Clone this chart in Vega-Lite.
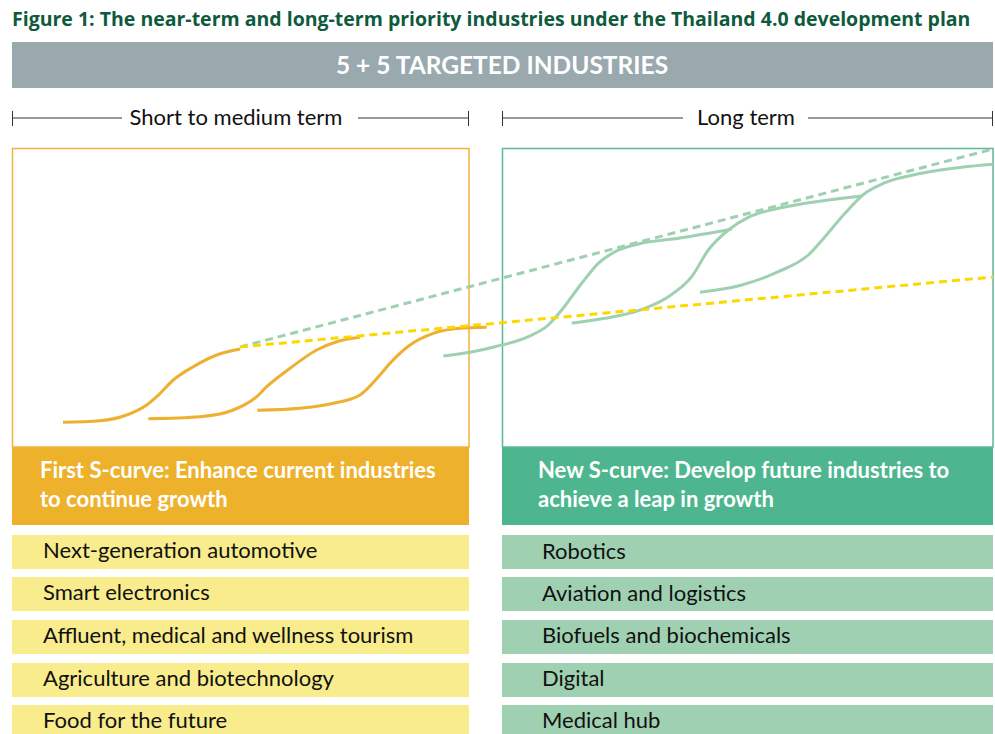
{
  "$schema": "https://vega.github.io/schema/vega-lite/v6.json",
  "width": 995,
  "height": 734,
  "autosize": {"type": "none"},
  "padding": 0,
  "background": "white",
  "config": {"view": {"stroke": null}, "text": {"font": "Lato"}},
  "datasets": {
    "blocks": [
      {"part": "banner", "x": 12, "x2": 993, "y": 42, "y2": 88},
      {"part": "first_header", "x": 12, "x2": 469, "y": 447, "y2": 525},
      {"part": "new_header", "x": 502, "x2": 993, "y": 447, "y2": 525}
    ],
    "frames": [
      {"series": "first_frame", "x": 12.5, "x2": 469, "y": 148.5, "y2": 447},
      {"series": "new_frame", "x": 502.5, "x2": 993, "y": 148.5, "y2": 447}
    ],
    "industries": [
      {"side": "first", "rank": 1, "industry": "Next-generation automotive", "x": 12, "x2": 469, "y": 535, "y2": 569, "tx": 43, "ty": 558},
      {"side": "first", "rank": 2, "industry": "Smart electronics", "x": 12, "x2": 469, "y": 577, "y2": 611, "tx": 43, "ty": 600},
      {"side": "first", "rank": 3, "industry": "Affluent, medical and wellness tourism", "x": 12, "x2": 469, "y": 620, "y2": 654, "tx": 43, "ty": 643},
      {"side": "first", "rank": 4, "industry": "Agriculture and biotechnology", "x": 12, "x2": 469, "y": 663, "y2": 697, "tx": 43, "ty": 686},
      {"side": "first", "rank": 5, "industry": "Food for the future", "x": 12, "x2": 469, "y": 705, "y2": 740, "tx": 43, "ty": 728},
      {"side": "new", "rank": 1, "industry": "Robotics", "x": 502, "x2": 993, "y": 535, "y2": 569, "tx": 542, "ty": 559},
      {"side": "new", "rank": 2, "industry": "Aviation and logistics", "x": 502, "x2": 993, "y": 577, "y2": 611, "tx": 542, "ty": 601},
      {"side": "new", "rank": 3, "industry": "Biofuels and biochemicals", "x": 502, "x2": 993, "y": 620, "y2": 654, "tx": 542, "ty": 643},
      {"side": "new", "rank": 4, "industry": "Digital", "x": 502, "x2": 993, "y": 663, "y2": 697, "tx": 542, "ty": 686},
      {"side": "new", "rank": 5, "industry": "Medical hub", "x": 502, "x2": 993, "y": 705, "y2": 740, "tx": 542, "ty": 728}
    ],
    "hrules": [
      {"x": 12, "x2": 122, "y": 118},
      {"x": 358, "x2": 469, "y": 118},
      {"x": 502, "x2": 683, "y": 118},
      {"x": 808, "x2": 993, "y": 118}
    ],
    "vrules": [
      {"x": 12.5, "y": 111, "y2": 126},
      {"x": 468.5, "y": 111, "y2": 126},
      {"x": 502.5, "y": 111, "y2": 126},
      {"x": 992.5, "y": 111, "y2": 126}
    ],
    "curves": [
      {"series": "first", "curve": "f1", "x": 63, "y": 422.3},
      {"series": "first", "curve": "f1", "x": 100, "y": 420.7},
      {"series": "first", "curve": "f1", "x": 126.7, "y": 415},
      {"series": "first", "curve": "f1", "x": 146.7, "y": 405},
      {"series": "first", "curve": "f1", "x": 156.7, "y": 396.7},
      {"series": "first", "curve": "f1", "x": 173.3, "y": 380},
      {"series": "first", "curve": "f1", "x": 193.3, "y": 366.7},
      {"series": "first", "curve": "f1", "x": 216.7, "y": 355},
      {"series": "first", "curve": "f1", "x": 240, "y": 349},
      {"series": "first", "curve": "f2", "x": 148.3, "y": 418.7},
      {"series": "first", "curve": "f2", "x": 200, "y": 416.7},
      {"series": "first", "curve": "f2", "x": 233.3, "y": 410},
      {"series": "first", "curve": "f2", "x": 256.7, "y": 396.7},
      {"series": "first", "curve": "f2", "x": 266.7, "y": 386.7},
      {"series": "first", "curve": "f2", "x": 290, "y": 368.3},
      {"series": "first", "curve": "f2", "x": 316.7, "y": 350},
      {"series": "first", "curve": "f2", "x": 336.7, "y": 341.7},
      {"series": "first", "curve": "f2", "x": 360, "y": 337.3},
      {"series": "first", "curve": "f3", "x": 257.3, "y": 410.3},
      {"series": "first", "curve": "f3", "x": 300, "y": 408.3},
      {"series": "first", "curve": "f3", "x": 333.3, "y": 403.3},
      {"series": "first", "curve": "f3", "x": 360, "y": 395},
      {"series": "first", "curve": "f3", "x": 380, "y": 375},
      {"series": "first", "curve": "f3", "x": 390, "y": 363.3},
      {"series": "first", "curve": "f3", "x": 410, "y": 345},
      {"series": "first", "curve": "f3", "x": 433.3, "y": 333.3},
      {"series": "first", "curve": "f3", "x": 460, "y": 328.3},
      {"series": "first", "curve": "f3", "x": 486.7, "y": 327.3},
      {"series": "new", "curve": "n1", "x": 443.3, "y": 356},
      {"series": "new", "curve": "n1", "x": 470, "y": 352.3},
      {"series": "new", "curve": "n1", "x": 495, "y": 346.7},
      {"series": "new", "curve": "n1", "x": 528.3, "y": 336.7},
      {"series": "new", "curve": "n1", "x": 548.3, "y": 325},
      {"series": "new", "curve": "n1", "x": 561.7, "y": 310},
      {"series": "new", "curve": "n1", "x": 581.7, "y": 283.3},
      {"series": "new", "curve": "n1", "x": 598.3, "y": 263.3},
      {"series": "new", "curve": "n1", "x": 615, "y": 251.7},
      {"series": "new", "curve": "n1", "x": 638.3, "y": 244},
      {"series": "new", "curve": "n1", "x": 678.3, "y": 238.3},
      {"series": "new", "curve": "n1", "x": 731.7, "y": 229.3},
      {"series": "new", "curve": "n2", "x": 571.7, "y": 323.3},
      {"series": "new", "curve": "n2", "x": 605, "y": 318.3},
      {"series": "new", "curve": "n2", "x": 638.3, "y": 310.7},
      {"series": "new", "curve": "n2", "x": 668.3, "y": 296.7},
      {"series": "new", "curve": "n2", "x": 691.7, "y": 276.7},
      {"series": "new", "curve": "n2", "x": 708.3, "y": 250},
      {"series": "new", "curve": "n2", "x": 728.3, "y": 230},
      {"series": "new", "curve": "n2", "x": 748.3, "y": 217.3},
      {"series": "new", "curve": "n2", "x": 778.3, "y": 208.3},
      {"series": "new", "curve": "n2", "x": 828.3, "y": 200},
      {"series": "new", "curve": "n2", "x": 861.7, "y": 196},
      {"series": "new", "curve": "n3", "x": 700, "y": 292.3},
      {"series": "new", "curve": "n3", "x": 741.7, "y": 285},
      {"series": "new", "curve": "n3", "x": 778.3, "y": 271.7},
      {"series": "new", "curve": "n3", "x": 808.3, "y": 255},
      {"series": "new", "curve": "n3", "x": 825, "y": 236.7},
      {"series": "new", "curve": "n3", "x": 845, "y": 213.3},
      {"series": "new", "curve": "n3", "x": 865, "y": 193.3},
      {"series": "new", "curve": "n3", "x": 885, "y": 182.7},
      {"series": "new", "curve": "n3", "x": 921.7, "y": 173.3},
      {"series": "new", "curve": "n3", "x": 961.7, "y": 167.3},
      {"series": "new", "curve": "n3", "x": 993, "y": 164.3}
    ],
    "trends": [
      {"series": "new_trend", "x": 240, "y": 347},
      {"series": "new_trend", "x": 993, "y": 149},
      {"series": "first_trend", "x": 240, "y": 347},
      {"series": "first_trend", "x": 993, "y": 277}
    ],
    "labels": [
      {"kind": "title", "text": "Figure 1: The near-term and long-term priority industries under the Thailand 4.0 development plan", "x": 12, "y": 26},
      {"kind": "banner", "text": "5 + 5 TARGETED INDUSTRIES", "x": 502, "y": 74},
      {"kind": "term", "text": "Short to medium term", "x": 236, "y": 125},
      {"kind": "term", "text": "Long term", "x": 746, "y": 125},
      {"kind": "header", "text": "First S-curve: Enhance current industries", "x": 40, "y": 478},
      {"kind": "header", "text": "to continue growth", "x": 40, "y": 507},
      {"kind": "header", "text": "New S-curve: Develop future industries to", "x": 538, "y": 478},
      {"kind": "header", "text": "achieve a leap in growth", "x": 538, "y": 507}
    ]
  },
  "layer": [
    {
      "data": {"name": "blocks"},
      "mark": {"type": "rect"},
      "encoding": {
        "x": {"field": "x", "type": "quantitative", "scale": {"domain": [0, 995], "nice": false, "zero": false}, "axis": null},
        "x2": {"field": "x2"},
        "y": {"field": "y", "type": "quantitative", "scale": {"domain": [0, 734], "nice": false, "zero": false, "reverse": true}, "axis": null},
        "y2": {"field": "y2"},
        "fill": {"field": "part", "type": "nominal", "scale": {"domain": ["banner", "first_header", "new_header"], "range": ["#9aa9ae", "#eeb12c", "#4db68f"]}, "legend": null}
      }
    },
    {
      "data": {"name": "frames"},
      "mark": {"type": "rect", "fill": "white", "strokeWidth": 1.5},
      "encoding": {
        "x": {"field": "x", "type": "quantitative", "axis": null},
        "x2": {"field": "x2"},
        "y": {"field": "y", "type": "quantitative", "axis": null},
        "y2": {"field": "y2"},
        "stroke": {"field": "series", "type": "nominal", "scale": {"domain": ["first_frame", "new_frame", "first", "new", "new_trend", "first_trend"], "range": ["#f0b33c", "#5cb996", "#edb030", "#9fd0b1", "#9fd0b1", "#fdd800"]}, "legend": null}
      }
    },
    {
      "data": {"name": "industries"},
      "mark": {"type": "rect"},
      "encoding": {
        "x": {"field": "x", "type": "quantitative", "axis": null},
        "x2": {"field": "x2"},
        "y": {"field": "y", "type": "quantitative", "axis": null},
        "y2": {"field": "y2"},
        "color": {"field": "side", "type": "nominal", "scale": {"domain": ["first", "new"], "range": ["#f8ec8d", "#9fd0b1"]}, "legend": null}
      }
    },
    {
      "data": {"name": "industries"},
      "mark": {"type": "text", "align": "left", "baseline": "alphabetic", "fontSize": 22, "color": "#111111"},
      "encoding": {
        "x": {"field": "tx", "type": "quantitative", "axis": null},
        "y": {"field": "ty", "type": "quantitative", "axis": null},
        "text": {"field": "industry"}
      }
    },
    {
      "data": {"name": "hrules"},
      "mark": {"type": "rule", "color": "#333333", "strokeWidth": 1},
      "encoding": {
        "x": {"field": "x", "type": "quantitative", "axis": null},
        "x2": {"field": "x2"},
        "y": {"field": "y", "type": "quantitative", "axis": null}
      }
    },
    {
      "data": {"name": "vrules"},
      "mark": {"type": "rule", "color": "#333333", "strokeWidth": 1},
      "encoding": {
        "x": {"field": "x", "type": "quantitative", "axis": null},
        "y": {"field": "y", "type": "quantitative", "axis": null},
        "y2": {"field": "y2"}
      }
    },
    {
      "data": {"name": "curves"},
      "mark": {"type": "line", "strokeWidth": 3, "interpolate": "monotone", "strokeCap": "butt"},
      "encoding": {
        "x": {"field": "x", "type": "quantitative", "axis": null},
        "y": {"field": "y", "type": "quantitative", "axis": null},
        "detail": {"field": "curve"},
        "stroke": {"field": "series", "type": "nominal", "scale": {"domain": ["first_frame", "new_frame", "first", "new", "new_trend", "first_trend"], "range": ["#f0b33c", "#5cb996", "#edb030", "#9fd0b1", "#9fd0b1", "#fdd800"]}, "legend": null}
      }
    },
    {
      "data": {"name": "trends"},
      "mark": {"type": "line", "strokeWidth": 3, "strokeDash": [8, 5]},
      "encoding": {
        "x": {"field": "x", "type": "quantitative", "axis": null},
        "y": {"field": "y", "type": "quantitative", "axis": null},
        "detail": {"field": "series"},
        "stroke": {"field": "series", "type": "nominal", "scale": {"domain": ["first_frame", "new_frame", "first", "new", "new_trend", "first_trend"], "range": ["#f0b33c", "#5cb996", "#edb030", "#9fd0b1", "#9fd0b1", "#fdd800"]}, "legend": null}
      }
    },
    {
      "data": {"name": "labels"},
      "transform": [{"filter": "datum.kind === 'title'"}],
      "mark": {"type": "text", "align": "left", "baseline": "alphabetic", "font": "Open Sans", "fontSize": 19.5, "fontWeight": "bold", "color": "#0e5a3c"},
      "encoding": {
        "x": {"field": "x", "type": "quantitative", "axis": null},
        "y": {"field": "y", "type": "quantitative", "axis": null},
        "text": {"field": "text"}
      }
    },
    {
      "data": {"name": "labels"},
      "transform": [{"filter": "datum.kind === 'banner'"}],
      "mark": {"type": "text", "align": "center", "baseline": "alphabetic", "fontSize": 24.5, "fontWeight": "bold", "color": "white"},
      "encoding": {
        "x": {"field": "x", "type": "quantitative", "axis": null},
        "y": {"field": "y", "type": "quantitative", "axis": null},
        "text": {"field": "text"}
      }
    },
    {
      "data": {"name": "labels"},
      "transform": [{"filter": "datum.kind === 'term'"}],
      "mark": {"type": "text", "align": "center", "baseline": "alphabetic", "fontSize": 22, "color": "#111111"},
      "encoding": {
        "x": {"field": "x", "type": "quantitative", "axis": null},
        "y": {"field": "y", "type": "quantitative", "axis": null},
        "text": {"field": "text"}
      }
    },
    {
      "data": {"name": "labels"},
      "transform": [{"filter": "datum.kind === 'header'"}],
      "mark": {"type": "text", "align": "left", "baseline": "alphabetic", "fontSize": 22, "fontWeight": "bold", "color": "white"},
      "encoding": {
        "x": {"field": "x", "type": "quantitative", "axis": null},
        "y": {"field": "y", "type": "quantitative", "axis": null},
        "text": {"field": "text"}
      }
    }
  ]
}
